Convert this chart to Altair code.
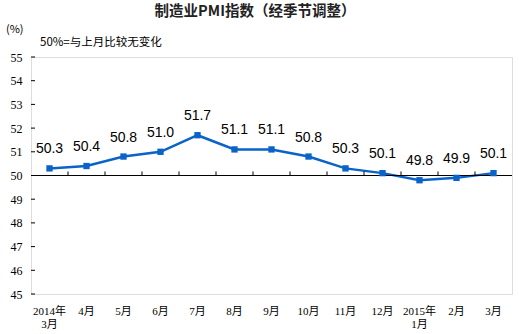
import altair as alt
import pandas as pd

months = ["2014年\n3月", "4月", "5月", "6月", "7月", "8月", "9月", "10月",
          "11月", "12月", "2015年\n1月", "2月", "3月"]
pmi = [50.3, 50.4, 50.8, 51.0, 51.7, 51.1, 51.1, 50.8, 50.3, 50.1, 49.8, 49.9, 50.1]
y_ticks = [45, 46, 47, 48, 49, 50, 51, 52, 53, 54, 55]

title_text = "制造业PMI指数（经季节调整）"
unit_text = "(%)"
note_text = "50%=与上月比较无变化"

df = pd.DataFrame({"m": months, "v": pmi})
df_ticks = pd.DataFrame({"t": y_ticks})
df_xt = pd.DataFrame({"m": months[1:]})

W, H = 481, 237
blue = "#0a63c9"
serif = "Liberation Serif, Noto Sans CJK SC"
cjk = "Noto Sans CJK SC"

xscale = alt.Scale(type="band", domain=months, paddingInner=0, paddingOuter=0)
yscale = alt.Scale(domain=[45, 55], nice=False, zero=False)

x_axis = alt.Axis(title=None, labelExpr="split(datum.label, '\\n')", labelAngle=0,
                  ticks=False, domain=False, labelPadding=11, labelFontSize=11,
                  labelFont=serif, labelColor="#000", labelLineHeight=13,
                  labelBaseline="top", labelOverlap=False, labelFlush=False)
y_axis = alt.Axis(title=None, values=y_ticks, tickCount=11, ticks=False, domain=False,
                  labelPadding=9, labelFontSize=12, labelFont=serif,
                  labelColor="#000", grid=False, labelOverlap=False, labelFlush=False,
                  labelBound=False)

base = alt.Chart(df)

line = base.mark_line(color=blue, strokeWidth=2.5).encode(
    x=alt.X("m:N", scale=xscale, axis=x_axis, sort=months, bandPosition=0.5),
    y=alt.Y("v:Q", scale=yscale, axis=y_axis),
)
pts = base.mark_square(color=blue, size=40, opacity=1).encode(
    x=alt.X("m:N", scale=xscale, axis=x_axis, sort=months, bandPosition=0.5),
    y=alt.Y("v:Q", scale=yscale, axis=y_axis),
)
labels = base.mark_text(dy=-19, fontSize=14, font="Liberation Sans", color="#000",
                        baseline="middle").encode(
    x=alt.X("m:N", scale=xscale, axis=x_axis, sort=months, bandPosition=0.5),
    y=alt.Y("v:Q", scale=yscale, axis=y_axis),
    text=alt.Text("v:Q", format=".1f"),
)
line50 = alt.Chart(pd.DataFrame({"y": [50]})).mark_rule(color="#000", strokeWidth=1).encode(
    y=alt.Y("y:Q", scale=yscale, axis=y_axis)
)
yt = alt.Chart(df_ticks).mark_rule(color="#000", strokeWidth=1).encode(
    y=alt.Y("t:Q", scale=yscale, axis=y_axis), x=alt.value(0), x2=alt.value(4)
)
xt = alt.Chart(df_xt).mark_rule(color="#000", strokeWidth=1).encode(
    x=alt.X("m:N", scale=xscale, axis=x_axis, sort=months, bandPosition=0),
    y=alt.YDatum(50, scale=yscale, axis=y_axis), y2=alt.datum(50.17),
)

title = alt.Chart(pd.DataFrame({"t": [title_text]})).mark_text(
    fontSize=14.5, fontWeight="bold", font=cjk, color="#222", align="center", baseline="middle"
).encode(text="t:N", x=alt.value(224), y=alt.value(-45))
unit = alt.Chart(pd.DataFrame({"t": [unit_text]})).mark_text(
    fontSize=11, font=cjk, color="#000", align="left", baseline="middle"
).encode(text="t:N", x=alt.value(-25), y=alt.value(-27))
note = alt.Chart(pd.DataFrame({"t": [note_text]})).mark_text(
    fontSize=11.5, font=cjk, color="#000", align="left", baseline="middle"
).encode(text="t:N", x=alt.value(9), y=alt.value(-14))

chart = alt.layer(line, line50, yt, xt, pts, labels, title, unit, note).properties(
    width=W, height=H,
    autosize=alt.AutoSizeParams(type="none"),
    padding={"left": 31, "top": 57, "right": 7, "bottom": 40},
).configure_view(stroke="#222", strokeWidth=1).configure(background="white")

chart.save("out.html", embed_options={"renderer": "svg", "actions": False})
